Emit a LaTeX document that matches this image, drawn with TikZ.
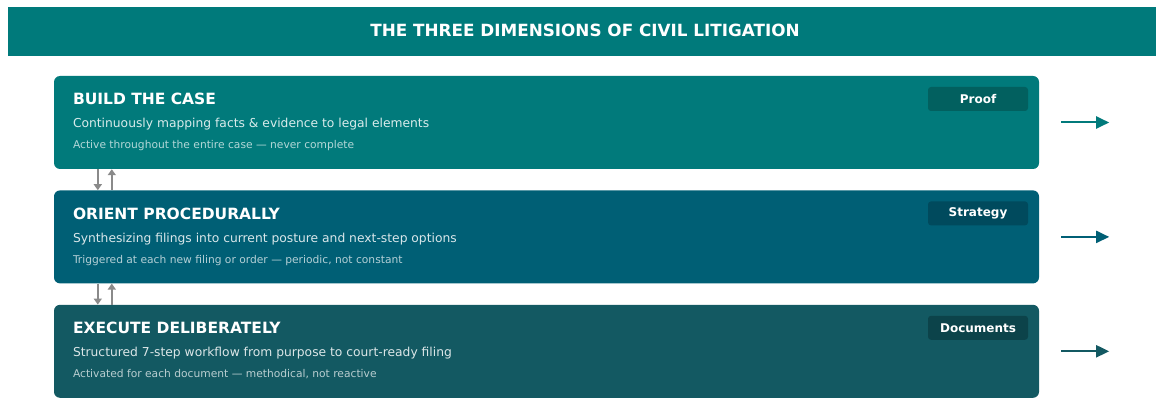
\documentclass[tikz,border=0pt]{standalone}
\usepackage{fontspec}
\setmainfont{DejaVu Sans}
\usetikzlibrary{positioning}
\usetikzlibrary{arrows.meta}

\definecolor{barteal}{HTML}{007A7B}
\definecolor{proofteal}{HTML}{017A7B}
\definecolor{prooftag}{HTML}{02605F}
\definecolor{strategyblue}{HTML}{005F75}
\definecolor{strategytag}{HTML}{004A5D}
\definecolor{docteal}{HTML}{135962}
\definecolor{doctag}{HTML}{0C434A}
\definecolor{linkgray}{HTML}{8A8A8A}

\tikzset{
  panel/.style={rectangle, rounded corners=6pt, minimum width=985pt, minimum height=93pt, inner sep=0pt},
  tag/.style={rectangle, rounded corners=3pt, minimum width=100pt, minimum height=24pt, inner sep=0pt,
    anchor=north east, text=white, font=\bfseries\fontsize{12}{14}\selectfont},
  heading/.style={anchor=base west, inner sep=0pt, text=white, font=\bfseries\fontsize{15.5}{18}\selectfont},
  summary/.style={anchor=base west, inner sep=0pt, text=white, text opacity=0.85, font=\fontsize{12.3}{14}\selectfont},
  detail/.style={anchor=base west, inner sep=0pt, text=white, text opacity=0.7, font=\fontsize{10.7}{12}\selectfont},
  flow/.style={-{Triangle[length=13pt,width=12pt]}, line width=2pt},
  link/.style={-{Triangle[length=6pt,width=8pt]}, line width=1.5pt, draw=linkgray}
}

\begin{document}
\begin{tikzpicture}[x=1pt,y=-1pt]
  \useasboundingbox (0,0) rectangle (1156,398);
  \fill[barteal] (8,7) rectangle (1156,56);
  \node[anchor=base, inner sep=0pt, text=white, font=\bfseries\fontsize{16.8}{19}\selectfont] (title) at (585,37) {THE THREE DIMENSIONS OF CIVIL LITIGATION};

  \node[panel, fill=proofteal] (build) at (546.5,122.5) {};
  \node[panel, fill=strategyblue, below=21pt of build] (orient) {};
  \node[panel, fill=docteal, below=21pt of orient] (execute) {};

  \node[heading] (buildhead) at ([shift={(19pt,-29pt)}]build.north west) {BUILD THE CASE};
  \node[summary] (buildsum) at ([shift={(19pt,-52pt)}]build.north west) {Continuously mapping facts \& evidence to legal elements};
  \node[detail] (buildnote) at ([shift={(19pt,-73pt)}]build.north west) {Active throughout the entire case — never complete};
  \node[tag, fill=prooftag] (prooftag) at ([shift={(-11pt,-11pt)}]build.north east) {Proof};

  \node[heading] (orienthead) at ([shift={(19pt,-29pt)}]orient.north west) {ORIENT PROCEDURALLY};
  \node[summary] (orientsum) at ([shift={(19pt,-52pt)}]orient.north west) {Synthesizing filings into current posture and next-step options};
  \node[detail] (orientnote) at ([shift={(19pt,-73pt)}]orient.north west) {Triggered at each new filing or order — periodic, not constant};
  \node[tag, fill=strategytag] (strategytag) at ([shift={(-11pt,-11pt)}]orient.north east) {Strategy};

  \node[heading] (executehead) at ([shift={(19pt,-29pt)}]execute.north west) {EXECUTE DELIBERATELY};
  \node[summary] (executesum) at ([shift={(19pt,-52pt)}]execute.north west) {Structured 7-step workflow from purpose to court-ready filing};
  \node[detail] (executenote) at ([shift={(19pt,-73pt)}]execute.north west) {Activated for each document — methodical, not reactive};
  \node[tag, fill=doctag] (doctag) at ([shift={(-11pt,-11pt)}]execute.north east) {Documents};

  \draw[link] ([xshift=44pt]build.south west) -- ([xshift=44pt]orient.north west);
  \draw[link] ([xshift=58pt]orient.north west) -- ([xshift=58pt]build.south west);
  \draw[link] ([xshift=44pt]orient.south west) -- ([xshift=44pt]execute.north west);
  \draw[link] ([xshift=58pt]execute.north west) -- ([xshift=58pt]orient.south west);

  \coordinate[right=70pt of build.east] (buildout);
  \coordinate[right=70pt of orient.east] (orientout);
  \coordinate[right=70pt of execute.east] (executeout);
  \draw[flow, draw=proofteal, fill=proofteal] ([xshift=22pt]build.east) -- (buildout);
  \draw[flow, draw=strategyblue, fill=strategyblue] ([xshift=22pt]orient.east) -- (orientout);
  \draw[flow, draw=docteal, fill=docteal] ([xshift=22pt]execute.east) -- (executeout);
\end{tikzpicture}
\end{document}
